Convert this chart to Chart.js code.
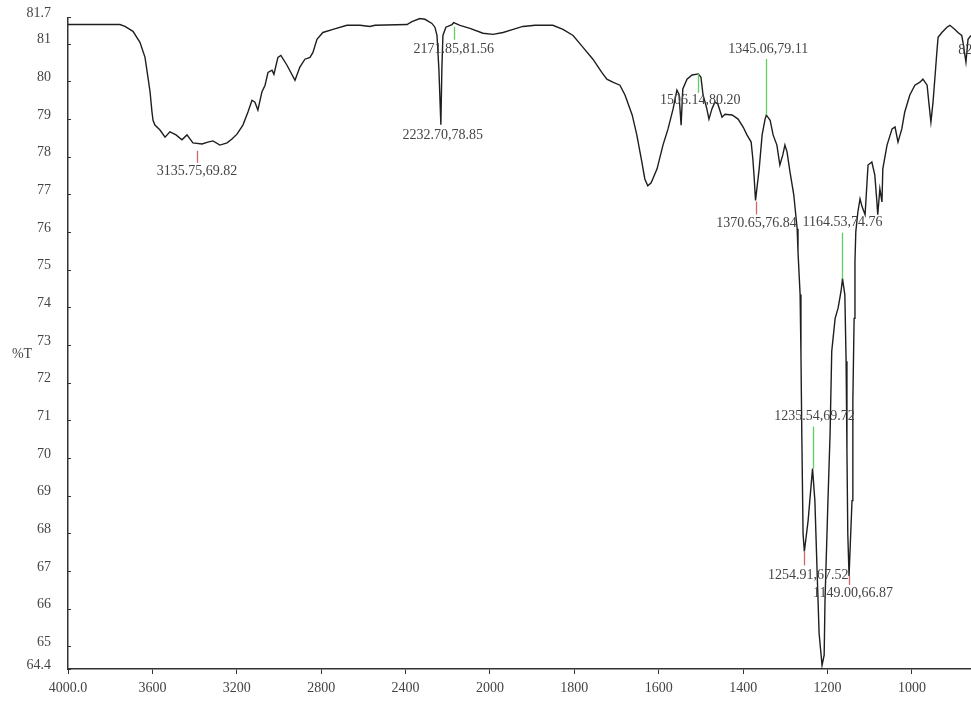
<!DOCTYPE html>
<html>
<head>
<meta charset="utf-8">
<script src="https://cdn.jsdelivr.net/npm/chart.js@4.4.1/dist/chart.umd.min.js"></script>
<style>
  html, body { margin: 0; padding: 0; background: #fff; }
  #wrap { width: 971px; height: 704px; position: relative; }
  canvas { display: block; }
</style>
</head>
<body>
<div id="wrap"><canvas id="spectrum"></canvas></div>
<script>
// IR spectrum: wavenumber (cm-1) and transmittance (%T)
const wavenumbers = [
  4000, 3754, 3730, 3692, 3659, 3635, 3621, 3611, 3602, 3597,
  3588, 3564, 3540, 3517, 3488, 3460, 3436, 3408, 3365, 3337,
  3313, 3280, 3246, 3223, 3199, 3171, 3147, 3128, 3114, 3100,
  3081, 3066, 3052, 3033, 3024, 3005, 2991, 2962, 2924, 2901,
  2877, 2853, 2839, 2820, 2792, 2744, 2678, 2616, 2569, 2545,
  2393, 2370, 2332, 2308, 2275, 2261, 2251, 2242, 2232.70, 2228,
  2223, 2209, 2180, 2171.85, 2142, 2095, 2033, 1993, 1969, 1945,
  1922, 1893, 1851, 1827, 1803, 1780, 1756, 1735, 1723, 1709,
  1692, 1680, 1663, 1652, 1640, 1633, 1626, 1618, 1604, 1590,
  1578, 1566, 1557, 1552, 1547, 1543, 1533, 1521, 1506.14, 1500,
  1495, 1486, 1481, 1474, 1467, 1460, 1450, 1443, 1426, 1412,
  1400, 1391, 1381, 1377, 1374, 1370.65, 1362, 1355, 1348, 1345.06,
  1336, 1329, 1320, 1313, 1306, 1301, 1296, 1289, 1280, 1272,
  1270, 1265, 1263, 1261, 1258, 1254.91, 1246, 1242, 1235.54, 1230,
  1225, 1220, 1213, 1208, 1206, 1199, 1194, 1190, 1182, 1175,
  1168, 1164.53, 1159, 1156, 1154, 1152, 1149.00, 1142, 1140, 1137,
  1135, 1133, 1128, 1123, 1118, 1111, 1104, 1095, 1088, 1083,
  1081, 1076, 1071, 1069, 1059, 1047, 1040, 1033, 1024, 1017,
  1005, 993, 981, 974, 964, 960, 955, 950, 945, 941,
  938, 929, 917, 910, 898, 891, 882, 879, 872, 867,
  860
];
const transmittance = [
  81.51, 81.51, 81.46, 81.33, 81.04, 80.64, 80.11, 79.72, 79.19, 78.97,
  78.84, 78.71, 78.52, 78.66, 78.58, 78.45, 78.58, 78.37, 78.34, 78.39,
  78.42, 78.31, 78.37, 78.47, 78.60, 78.84, 79.19, 79.50, 79.45, 79.24,
  79.72, 79.90, 80.24, 80.30, 80.19, 80.64, 80.69, 80.43, 80.03, 80.38,
  80.59, 80.64, 80.77, 81.12, 81.30, 81.38, 81.49, 81.49, 81.46, 81.49,
  81.51, 81.59, 81.67, 81.65, 81.54, 81.44, 81.22, 80.32, 78.85, 80.32,
  81.22, 81.44, 81.51, 81.56, 81.49, 81.41, 81.28, 81.25, 81.30, 81.38,
  81.46, 81.49, 81.49, 81.38, 81.22, 80.91, 80.59, 80.24, 80.06, 79.98,
  79.90, 79.64, 79.11, 78.58, 77.86, 77.41, 77.23, 77.31, 77.68, 78.31,
  78.74, 79.27, 79.77, 79.66, 78.84, 79.80, 80.06, 80.17, 80.20, 80.11,
  79.64, 79.27, 79.00, 79.27, 79.45, 79.40, 79.05, 79.13, 79.11, 79.00,
  78.79, 78.58, 78.39, 77.94, 77.47, 76.84, 77.68, 78.58, 79.00, 79.11,
  78.97, 78.58, 78.31, 77.78, 78.05, 78.31, 78.13, 77.60, 76.99, 76.09,
  75.48, 74.34, 72.76, 70.64, 67.99, 67.52, 68.34, 68.87, 69.72, 68.87,
  67.09, 65.35, 64.50, 64.77, 66.22, 68.87, 70.64, 72.84, 73.71, 73.98,
  74.43, 74.76, 74.34, 72.57, 70.19, 67.99, 66.87, 68.87, 71.51, 73.71,
  75.22, 76.01, 76.54, 76.88, 76.67, 76.46, 77.78, 77.86, 77.52, 76.80,
  76.46, 77.15, 76.80, 77.68, 78.31, 78.74, 78.79, 78.39, 78.74, 79.19,
  79.64, 79.90, 79.98, 80.06, 79.90, 79.45, 78.92, 79.45, 80.17, 80.77,
  81.17, 81.30, 81.44, 81.49, 81.38, 81.30, 81.22, 81.04, 80.51, 81.12,
  81.22
];

// Axis ticks
const xTickValues = [4000, 3600, 3200, 2800, 2400, 2000, 1800, 1600, 1400, 1200, 1000];
const xTickLabels = ["4000.0", "3600", "3200", "2800", "2400", "2000", "1800", "1600", "1400", "1200", "1000"];
const yTickValues = [64.4, 65, 66, 67, 68, 69, 70, 71, 72, 73, 74, 75, 76, 77, 78, 79, 80, 81, 81.7];
const yTickLabels = ["64.4", "65", "66", "67", "68", "69", "70", "71", "72", "73", "74", "75", "76", "77", "78", "79", "80", "81", "81.7"];

// Peak-pick annotations
const peakLabels = ["3135.75,69.82", "2232.70,78.85", "2171.85,81.56", "1506.14,80.20", "1370.65,76.84",
                    "1345.06,79.11", "1254.91,67.52", "1235.54,69.72", "1164.53,74.76", "1149.00,66.87", "820.45,81.54"];
const peakWavenumbers = [3389, 2232.70, 2171.85, 1506.14, 1370.65, 1345.06, 1254.91, 1235.54, 1164.53, 1149.00, 803];
const peakTransmittance = [78.37, 78.85, 81.56, 80.20, 76.84, 79.11, 67.52, 69.72, 74.76, 66.87, 81.54];
const peakKinds = ["min", "min", "max", "max", "min", "max", "min", "max", "max", "min", "max"];

// The range 4000-2000 cm-1 is drawn at half the scale of the range below 2000 cm-1.
function toAxis(wn) {
  return wn >= 2000 ? (4000 - wn) / 2 : 1000 + (2000 - wn);
}

const points = wavenumbers.map((wn, i) => ({ x: toAxis(wn), y: transmittance[i] }));

const FONT = '"Liberation Serif", "DejaVu Serif", serif';
const TEXT = '#444';
const AXIS = '#333';

// Marker stroke offsets (px from the peak point) and label offset for each annotation
const markerLayout = [
  { from: 8, to: 20, label: 29, dx: 0 },
  { from: 0, to: 0, label: 11, dx: 2 },
  { from: 4, to: 17, label: 27, dx: 0 },
  { from: 0, to: 19, label: 26, dx: 2 },
  { from: 1, to: 14, label: 23, dx: 1 },
  { from: 0, to: -56, label: -66, dx: 2 },
  { from: 0, to: 14, label: 24, dx: 4 },
  { from: 0, to: -42, label: -52, dx: 2 },
  { from: 0, to: -46, label: -56, dx: 0 },
  { from: 0, to: 9, label: 17, dx: 4 },
  { from: 0, to: 0, label: 27, dx: 0 }
];

const spectrumDecor = {
  id: 'spectrumDecor',
  afterDatasetsDraw(chart) {
    const { ctx, chartArea, scales: { x, y } } = chart;
    ctx.save();

    // short inward tick marks on the %T axis
    ctx.strokeStyle = AXIS;
    ctx.lineWidth = 1;
    yTickValues.forEach(v => {
      const py = Math.round(y.getPixelForValue(v)) + 0.5;
      ctx.beginPath();
      ctx.moveTo(chartArea.left, py);
      ctx.lineTo(chartArea.left + 3, py);
      ctx.stroke();
    });

    // axis title, written horizontally
    ctx.font = '14px ' + FONT;
    ctx.fillStyle = TEXT;
    ctx.textAlign = 'center';
    ctx.textBaseline = 'middle';
    ctx.fillText('%T', 22, y.getPixelForValue(72.75));

    // peak markers and labels
    peakLabels.forEach((text, i) => {
      const px = x.getPixelForValue(toAxis(peakWavenumbers[i]));
      const py = y.getPixelForValue(peakTransmittance[i]);
      const m = markerLayout[i];
      if (m.to !== m.from) {
        ctx.strokeStyle = peakKinds[i] === 'min' ? '#d06a6a' : '#5fcf5f';
        ctx.lineWidth = 1.3;
        ctx.beginPath();
        ctx.moveTo(Math.round(px) + 0.5, py + m.from);
        ctx.lineTo(Math.round(px) + 0.5, py + m.to);
        ctx.stroke();
      }
      ctx.fillStyle = TEXT;
      ctx.fillText(text, px + m.dx, py + m.label);
    });

    ctx.restore();
  }
};

new Chart(document.getElementById('spectrum'), {
  type: 'line',
  data: {
    datasets: [{
      data: points,
      borderColor: '#1e1e1e',
      borderWidth: 1.4,
      pointRadius: 0,
      tension: 0,
      fill: false
    }]
  },
  options: {
    responsive: true,
    maintainAspectRatio: false,
    animation: false,
    devicePixelRatio: 1,
    parsing: false,
    layout: { padding: { top: 15, left: 0, right: 0, bottom: 0 }, autoPadding: false },
    plugins: { legend: { display: false }, tooltip: { enabled: false } },
    scales: {
      x: {
        type: 'linear',
        min: 0,
        max: toAxis(860),
        afterBuildTicks: s => { s.ticks = xTickValues.map(v => ({ value: toAxis(v) })); },
        afterFit: s => { s.height = 35; },
        ticks: {
          autoSkip: false,
          maxRotation: 0,
          padding: 6,
          color: TEXT,
          font: { family: FONT, size: 14 },
          callback: (v, i) => xTickLabels[i]
        },
        grid: { display: true, drawOnChartArea: false, drawTicks: true, tickLength: 5, color: AXIS, lineWidth: 1 },
        border: { display: true, color: AXIS, width: 1.5 }
      },
      y: {
        type: 'linear',
        min: 64.4,
        max: 81.7,
        afterBuildTicks: s => { s.ticks = yTickValues.map(v => ({ value: v })); },
        afterFit: s => { s.width = 68; },
        ticks: {
          autoSkip: false,
          padding: 9,
          labelOffset: -4,
          color: TEXT,
          font: { family: FONT, size: 14 },
          callback: (v, i) => yTickLabels[i]
        },
        grid: { display: false },
        border: { display: true, color: AXIS, width: 1.5 }
      }
    }
  },
  plugins: [spectrumDecor]
});
</script>
</body>
</html>
